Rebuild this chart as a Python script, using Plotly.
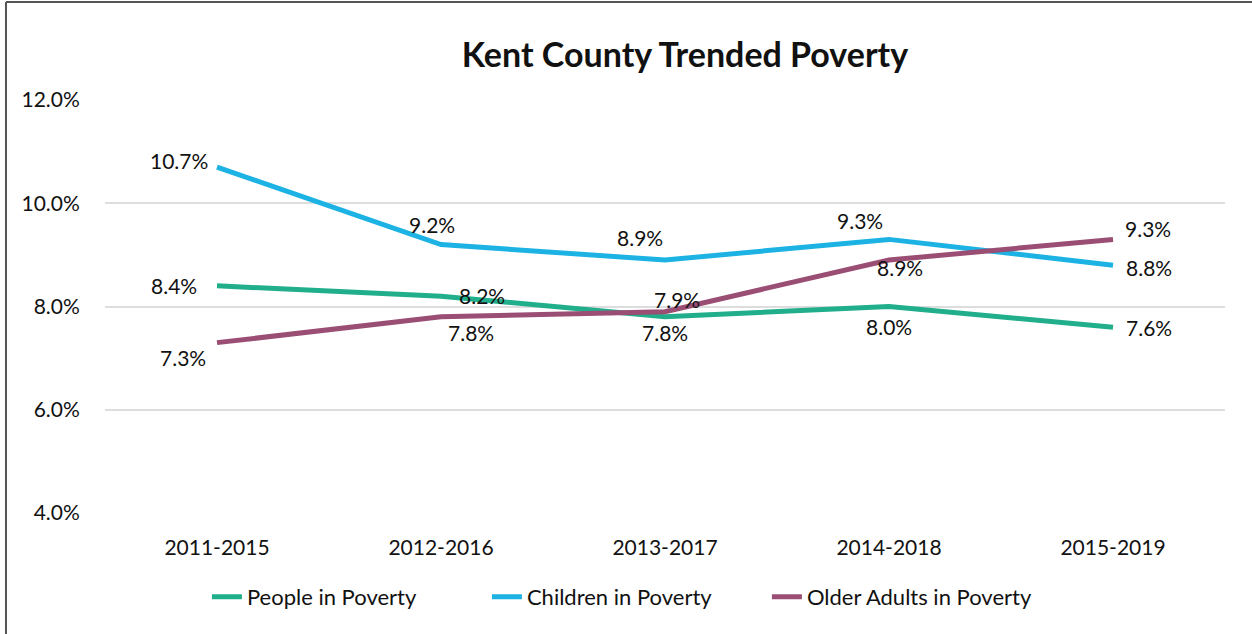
import plotly.graph_objects as go

periods = ["2011-2015", "2012-2016", "2013-2017", "2014-2018", "2015-2019"]
people = [8.4, 8.2, 7.8, 8.0, 7.6]
children = [10.7, 9.2, 8.9, 9.3, 8.8]
older = [7.3, 7.8, 7.9, 8.9, 9.3]

series = [
    ("People in Poverty", people, "#21AE8B"),
    ("Children in Poverty", children, "#1CB2E4"),
    ("Older Adults in Poverty", older, "#9A4E73"),
]

# label offsets (px) per series, per point
offsets = {
    "People in Poverty": [(-43, 0), (41, 1), (0, -16), (0, -20), (36, 0)],
    "Children in Poverty": [(-38, 7), (-9, 20), (-25, 23), (-29, 19), (36, -2)],
    "Older Adults in Poverty": [(-34, -15), (30, -16), (12, 12), (11, -7), (35, 11)],
}

FONT = "Lato, Open Sans, sans-serif"

fig = go.Figure()
annotations = []
for name, vals, color in series:
    fig.add_trace(go.Scatter(
        x=periods, y=vals, mode="lines", name=name,
        line=dict(color=color, width=5),
    ))
    for i, (p, v) in enumerate(zip(periods, vals)):
        dx, dy = offsets[name][i]
        annotations.append(dict(
            x=p, y=v, xref="x", yref="y", text=f"{v:.1f}%",
            showarrow=False, xshift=dx, yshift=dy,
            font=dict(size=21, color="#111111", family=FONT),
        ))

# outer frame (left and top edges)
shapes = [
    dict(type="line", xref="paper", yref="paper", x0=-0.0884, x1=-0.0884,
         y0=1.2373, y1=-0.30, line=dict(color="#555555", width=2)),
    dict(type="line", xref="paper", yref="paper", x0=-0.0884, x1=1.03,
         y0=1.2373, y1=1.2373, line=dict(color="#555555", width=2)),
]

fig.update_layout(
    width=1252, height=634,
    margin=dict(l=105, r=27, t=100, b=121),
    paper_bgcolor="white", plot_bgcolor="white",
    font=dict(family=FONT, color="#111111"),
    title=dict(text="<b>Kent County Trended Poverty</b>", x=685 / 1252, xref="container",
               xanchor="center", y=1 - 55 / 634, yanchor="middle",
               font=dict(size=34, color="#111111", family=FONT)),
    annotations=annotations,
    shapes=shapes,
    showlegend=True,
    legend=dict(orientation="h", x=0.466, xanchor="center", y=-0.203, yanchor="middle",
                font=dict(size=22, color="#111111", family=FONT),
                entrywidth=235, entrywidthmode="pixels", tracegroupgap=0),
    xaxis=dict(range=[-0.5, 4.5], showgrid=False, zeroline=False, showline=False,
               ticks="outside", ticklen=16, tickcolor="rgba(0,0,0,0)",
               tickfont=dict(size=21, color="#111111")),
    yaxis=dict(range=[4, 12], dtick=2, tickformat=".1f", ticksuffix="%",
               showgrid=True, gridcolor="#DDDDDD", gridwidth=1.5, zeroline=False,
               showline=False, ticks="outside", ticklen=20, tickcolor="rgba(0,0,0,0)",
               tickfont=dict(size=21, color="#111111")),
)

fig.write_html("out.html")
